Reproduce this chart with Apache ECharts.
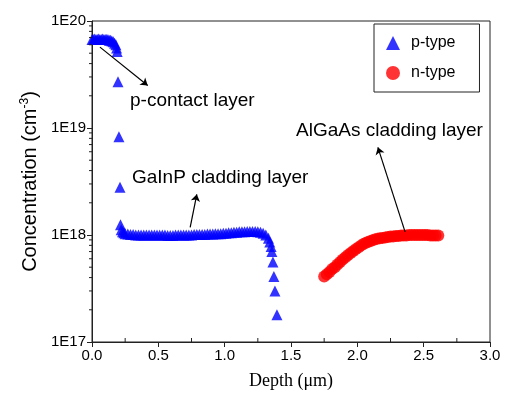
<!DOCTYPE html>
<html>
<head>
<meta charset="utf-8">
<script src="https://cdn.jsdelivr.net/npm/echarts@6/dist/echarts.min.js"></script>
<style>html,body{margin:0;padding:0;background:#fff}#c{width:505px;height:396px}</style>
</head>
<body>
<div id="c"></div>
<script>
// p-type data (depth in um, concentration in cm^-3)
const depthP = [0.00,0.01,0.02,0.03,0.04,0.05,0.06,0.07,0.08,0.09,0.10,0.11,0.12,0.13,0.14,0.15,0.16,0.17,0.18,0.185,0.19,
  0.196,0.203,0.211,0.215,0.22,0.23,0.24,
  0.25,0.27,0.29,0.31,0.33,0.35,0.37,0.39,0.41,0.43,0.45,0.47,0.49,0.51,0.53,0.55,0.57,0.59,0.61,0.63,0.65,0.67,0.69,
  0.71,0.73,0.75,0.77,0.79,0.81,0.83,0.85,0.87,0.89,0.91,0.93,0.95,0.97,0.99,1.01,1.03,1.05,1.07,1.09,1.11,1.13,1.15,
  1.17,1.19,1.21,1.23,1.25,1.27,1.29,1.31,1.33,1.34,1.35,1.356,
  1.364,1.371,1.379,1.394];
const concP = [6.7e19,6.7e19,6.8e19,6.7e19,6.7e19,6.8e19,6.7e19,6.7e19,6.8e19,6.7e19,6.7e19,6.7e19,6.7e19,6.6e19,6.6e19,6.5e19,6.4e19,6.2e19,6.0e19,5.6e19,5.2e19,
  2.7e19,8.3e18,2.8e18,1.25e18,1.12e18,1.07e18,1.05e18,
  1.03e18,1.02e18,1.01e18,1.01e18,1.0e18,1.0e18,1.0e18,1.0e18,1.0e18,1.0e18,1.0e18,1.0e18,1.0e18,1.0e18,1.0e18,1.0e18,0.99e18,0.99e18,0.99e18,1.0e18,1.0e18,1.0e18,1.0e18,
  1.0e18,1.0e18,1.0e18,1.01e18,1.01e18,1.01e18,1.01e18,1.01e18,1.02e18,1.02e18,1.02e18,1.03e18,1.03e18,1.03e18,1.04e18,1.04e18,1.05e18,1.05e18,1.06e18,1.06e18,1.07e18,1.07e18,1.07e18,
  1.08e18,1.08e18,1.08e18,1.08e18,1.07e18,1.06e18,1.04e18,1.0e18,0.93e18,0.86e18,0.78e18,0.70e18,
  5.6e17,4.1e17,3.0e17,1.8e17];
// n-type data
const depthN = [1.75,1.77,1.79,1.81,1.83,1.85,1.87,1.89,1.91,1.93,1.95,1.97,1.99,2.01,2.03,2.05,2.07,2.09,2.11,2.13,2.15,
  2.17,2.19,2.21,2.23,2.25,2.27,2.29,2.31,2.33,2.35,2.37,2.39,2.41,2.43,2.45,2.47,2.49,2.51,2.53,2.55,2.57,2.59,2.61];
const concN = [4.1e17,4.3e17,4.5e17,4.8e17,5.0e17,5.3e17,5.6e17,5.9e17,6.2e17,6.5e17,6.8e17,7.1e17,7.4e17,7.7e17,8.0e17,8.3e17,8.5e17,8.7e17,8.9e17,9.1e17,9.2e17,
  9.3e17,9.4e17,9.5e17,9.6e17,9.7e17,9.7e17,9.8e17,9.8e17,9.9e17,9.9e17,9.9e17,1.0e18,1.0e18,1.0e18,1.0e18,1.0e18,1.0e18,1.0e18,1.0e18,0.99e18,0.99e18,0.99e18,0.99e18];
// axes
const xMin = 0, xMax = 3, xStep = 0.5;
const xMinorTicks = [0.25,0.75,1.25,1.75,2.25,2.75];
const yMin = 1e17, yMax = 1e20;
const yDecades = [1e17,1e18,1e19];
const yMinorMult = [2,3,4,5,6,7,8,9];
// annotations
const annotations = [
  {text:'p-contact layer', from:[0.06,5.7e19], to:[0.42,2.5e19]},
  {text:'GaInP cladding layer', from:[0.74,1.18e18], to:[0.79,2.4e18]},
  {text:'AlGaAs cladding layer', from:[2.36,1.07e18], to:[2.155,6.6e18]}
];

const yMinorVals = [];
yDecades.forEach(d => yMinorMult.forEach(m => yMinorVals.push(d*m)));

const FONT = 'Liberation Sans, Arial, sans-serif';
const chart = echarts.init(document.getElementById('c'), null, {renderer:'canvas'});
chart.setOption({
  animation:false,
  backgroundColor:'#fff',
  grid:{left:92, right:15, top:21, bottom:54, show:true, borderColor:'#222', borderWidth:1},
  legend:{
    orient:'vertical', left:374, top:24, padding:[11,24,11,12], itemGap:14,
    itemWidth:14, itemHeight:14, borderColor:'#222', borderWidth:1,
    textStyle:{fontFamily:FONT, fontSize:16, color:'#000', padding:[0,0,0,6]},
    data:[{name:'p-type', icon:'triangle'},{name:'n-type', icon:'circle'}]
  },
  xAxis:{
    type:'value', min:xMin, max:xMax, interval:xStep,
    name:'Depth (\u03bcm)', nameLocation:'middle', nameGap:30,
    nameTextStyle:{fontFamily:'Liberation Serif, Times New Roman, serif', fontSize:18, color:'#000'},
    axisLine:{lineStyle:{color:'#222', width:1}},
    axisTick:{show:true, inside:false, length:5, lineStyle:{color:'#222'}},
    axisLabel:{fontFamily:FONT, fontSize:15, color:'#000', margin:6, formatter:v=>v.toFixed(1)},
    splitLine:{show:false}
  },
  yAxis:{
    type:'log', logBase:10, min:yMin, max:yMax,
    name:'Concentration (cm{sup|-3})', nameLocation:'middle', nameGap:50, nameRotate:90,
    nameTextStyle:{fontFamily:FONT, fontSize:20, color:'#000',
      rich:{sup:{fontFamily:FONT, fontSize:12, color:'#000', verticalAlign:'top', padding:[0,0,10,0]}}},
    axisLine:{lineStyle:{color:'#222', width:1}},
    axisTick:{show:true, inside:false, length:5, lineStyle:{color:'#222'}},
    axisLabel:{fontFamily:FONT, fontSize:15, color:'#000', margin:6,
      formatter:v=>'1E'+Math.round(Math.log10(v))},
    splitLine:{show:false}
  },
  graphic: annotations.map((a,i)=>({
    type:'text', left:[130,132,296][i], top:[91,168,121][i],
    style:{text:a.text, font:'19px '+FONT, fill:'#000'}
  })),
  series:[
    {name:'p-type', type:'scatter', symbol:'triangle', symbolSize:11,
     itemStyle:{color:'#0000ff'}, z:3,
     data: depthP.map((x,i)=>[x,concP[i]]),
     markLine:{silent:true, animation:false, label:{show:false},
       lineStyle:{color:'#000', width:1.2, type:'solid'},
       data: annotations.map(a=>[{coord:a.from, symbol:'none'},{coord:a.to, symbol:'arrow', symbolSize:7}])}
    },
    {name:'n-type', type:'scatter', symbol:'circle', symbolSize:12,
     itemStyle:{color:'#ff0000'}, z:3,
     data: depthN.map((x,i)=>[x,concN[i]])},
    {type:'custom', silent:true, clip:false, z:5,
     data: yMinorVals.map(v=>[xMin,v]),
     renderItem:(params, api)=>{
       const p = api.coord([api.value(0), api.value(1)]);
       return {type:'line', shape:{x1:p[0]-3, y1:p[1], x2:p[0], y2:p[1]}, style:{stroke:'#222', lineWidth:1}};
     }},
    {type:'custom', silent:true, clip:false, z:5,
     data: xMinorTicks.map(v=>[v,yMin]),
     renderItem:(params, api)=>{
       const p = api.coord([api.value(0), api.value(1)]);
       return {type:'line', shape:{x1:p[0], y1:p[1], x2:p[0], y2:p[1]-4}, style:{stroke:'#222', lineWidth:1}};
     }}
  ]
});
</script>
</body>
</html>
